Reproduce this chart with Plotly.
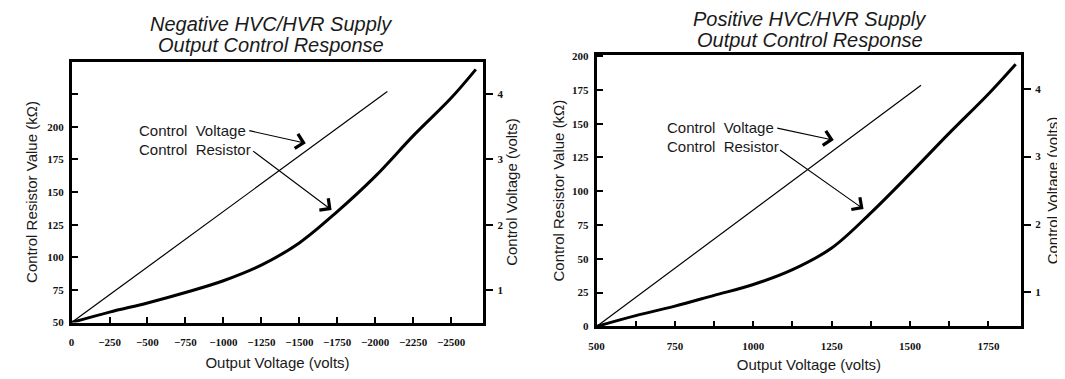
import plotly.graph_objects as go

# ---------------- data ----------------
# Negative HVC/HVR supply
neg_out_volts = [0, -250, -500, -750, -1000, -1250, -1500, -1750, -2000, -2250, -2500, -2663]
neg_resistor_k = [50, 58, 65, 73, 82, 94, 111, 135, 162, 193, 222, 244]
neg_ctrl_out_volts = [0, -2080]
neg_ctrl_volts = [0.5, 4.04]

# Positive HVC/HVR supply
pos_out_volts = [500, 625, 750, 875, 1000, 1125, 1250, 1375, 1500, 1625, 1750, 1837]
pos_resistor_k = [0, 8, 15, 23, 31, 42, 58, 84, 113, 143, 172, 194]
pos_ctrl_out_volts = [500, 1535]
pos_ctrl_volts = [0.5, 4.05]

# ticks
neg_x_ticks = [0, -250, -500, -750, -1000, -1250, -1500, -1750, -2000, -2250, -2500]
neg_y_ticks = [50, 75, 100, 125, 150, 175, 200, 225]
neg_y_labels = ["50", "75", "100", "125", "150", "175", "200", ""]
pos_x_ticks = [500, 625, 750, 875, 1000, 1125, 1250, 1375, 1500, 1625, 1750]
pos_x_labels = ["500", "", "750", "", "1000", "", "1250", "", "1500", "", "1750"]
pos_y_ticks = [0, 25, 50, 75, 100, 125, 150, 175, 200]
volt_ticks = [1, 2, 3, 4]

titles_neg = ["Negative HVC/HVR Supply", "Output Control Response"]
titles_pos = ["Positive HVC/HVR Supply", "Output Control Response"]

# the page body adds an 8px offset; size the figure so it fits the window
OFF = 8
W, H = 1065 - OFF, 379 - OFF
TXT = "#1a1a1a"
TICKFONT = dict(family="Liberation Serif, Times New Roman", size=11, color="#111", weight="bold")
LABFONT = dict(family="Liberation Sans, Arial", size=15, color=TXT)


def px(x):
    return (x - OFF) / W


def py(y):
    return 1 - (y - OFF) / H


fig = go.Figure()

fig.add_trace(go.Scatter(x=neg_out_volts, y=neg_resistor_k, mode="lines",
                         line=dict(color="black", width=3, shape="spline", smoothing=1.0),
                         xaxis="x", yaxis="y", name="Control Resistor", showlegend=False))
fig.add_trace(go.Scatter(x=neg_ctrl_out_volts, y=neg_ctrl_volts, mode="lines",
                         line=dict(color="black", width=1.2),
                         xaxis="x", yaxis="y2", name="Control Voltage", showlegend=False))
fig.add_trace(go.Scatter(x=pos_out_volts, y=pos_resistor_k, mode="lines",
                         line=dict(color="black", width=3, shape="spline", smoothing=1.0),
                         xaxis="x2", yaxis="y3", name="Control Resistor", showlegend=False))
fig.add_trace(go.Scatter(x=pos_ctrl_out_volts, y=pos_ctrl_volts, mode="lines",
                         line=dict(color="black", width=1.2),
                         xaxis="x2", yaxis="y4", name="Control Voltage", showlegend=False))

common = dict(showgrid=False, zeroline=False, showline=True, linecolor="black",
              linewidth=2.5, tickfont=TICKFONT, tickcolor="black", tickwidth=2,
              tickangle=0)

fig.update_layout(
    width=W, height=H,
    margin=dict(l=0, r=0, t=0, b=0),
    paper_bgcolor="white", plot_bgcolor="white",
    xaxis=dict(domain=[px(64), px(479)], range=[0, -2713], anchor="y",
               tickvals=neg_x_ticks, ticks="inside", ticklen=6, mirror=True,
               ticklabelstandoff=8,
               title=dict(text="Output Voltage (volts)", font=LABFONT, standoff=11), **common),
    yaxis=dict(domain=[py(327), py(58)], range=[50, 250], anchor="x",
               tickvals=neg_y_ticks, ticktext=neg_y_labels, ticks="inside", ticklen=7,
               ticklabelstandoff=3,
               title=dict(text="Control Resistor Value (kΩ)", font=LABFONT, standoff=6), **common),
    yaxis2=dict(range=[0.5, 4.5], overlaying="y", side="right", anchor="x",
                tickvals=volt_ticks, ticks="outside", ticklen=7, ticklabelstandoff=2,
                title=dict(text="Control Voltage (volts)", font=LABFONT, standoff=3), **common),
    xaxis2=dict(domain=[px(593), px(1021)], range=[500, 1855], anchor="y3",
                tickvals=pos_x_ticks, ticktext=pos_x_labels, ticks="inside", ticklen=6,
                mirror=True, ticklabelstandoff=8,
                title=dict(text="Output Voltage (volts)", font=LABFONT, standoff=9), **common),
    yaxis3=dict(domain=[py(331), py(51)], range=[0, 201], anchor="x2",
                tickvals=pos_y_ticks, ticks="inside", ticklen=7, ticklabelstandoff=3,
                title=dict(text="Control Resistor Value (kΩ)", font=LABFONT, standoff=4), **common),
    yaxis4=dict(range=[0.5, 4.5], overlaying="y3", side="right", anchor="x2",
                tickvals=volt_ticks, ticks="outside", ticklen=7, ticklabelstandoff=2,
                title=dict(text="Control Voltage (volts)", font=LABFONT, standoff=8), **common),
)

TITLEFONT = dict(family="Liberation Sans, Arial", size=20, color=TXT, style="italic")
ann = []
for txt, yy in zip(titles_neg, [19.5, 40.5]):
    ann.append(dict(text=txt, x=px(265), y=py(yy), xref="paper", yref="paper",
                    xanchor="center", yanchor="middle", showarrow=False, font=TITLEFONT))
for txt, yy in zip(titles_pos, [14, 35.5]):
    ann.append(dict(text=txt, x=px(808), y=py(yy), xref="paper", yref="paper",
                    xanchor="center", yanchor="middle", showarrow=False, font=TITLEFONT))

NB = "\u00a0"
labels = [("Control" + NB + " Voltage", 130, 129.3), ("Control" + NB + " Resistor", 130, 148.3),
          ("Control" + NB + " Voltage", 662, 125.7), ("Control" + NB + " Resistor", 662, 146)]
for txt, xx, yy in labels:
    ann.append(dict(text=txt, x=px(xx), y=py(yy), xref="paper", yref="paper",
                    xanchor="left", yanchor="middle", showarrow=False, font=LABFONT))

arrows = [((300, 142.3), (242, 129.3)), ((326, 211), (246, 151)),
          ((832, 139), (774, 126.7)), ((862, 210), (777, 150))]
for (hx, hy), (tx, ty) in arrows:
    ann.append(dict(text="", x=px(hx), y=py(hy), xref="paper", yref="paper",
                    ax=tx - hx, ay=ty - hy, showarrow=True, arrowhead=4,
                    arrowsize=2.6, arrowwidth=1.1, arrowcolor="black"))

fig.update_layout(annotations=ann)

fig.write_html("out.html")
